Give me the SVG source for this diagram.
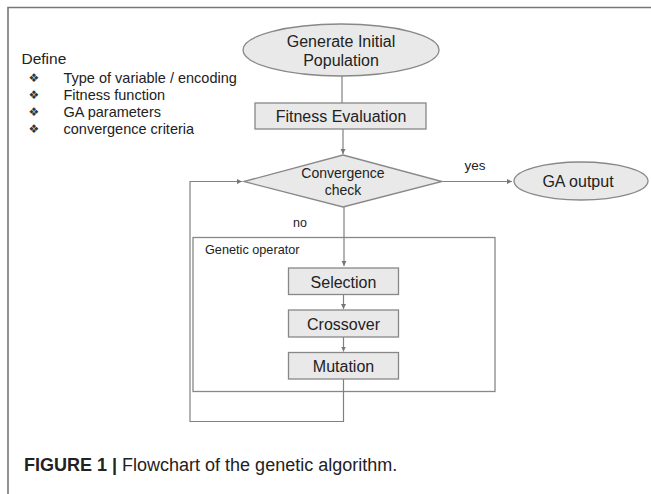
<svg xmlns="http://www.w3.org/2000/svg" width="651" height="494" viewBox="0 0 651 494">
<style>
  text { font-family: "Liberation Sans", Arial, sans-serif; fill: #222; }
  .node { fill: #e9e9e9; stroke: #888; stroke-width: 1.3; }
  .box { fill: none; stroke: #888; stroke-width: 1.3; }
  .conn { fill: none; stroke: #808080; stroke-width: 1.2; }
  .frame { fill: none; stroke: #777; stroke-width: 1.6; }
  .main { font-size: 16px; text-anchor: middle; }
  .small { font-size: 14px; text-anchor: middle; }
  .list { font-size: 14.5px; }
  .bullet { font-family: "DejaVu Sans", sans-serif; font-size: 12px; fill: #333; }
</style>
<defs>
  <marker id="arrow" markerWidth="6" markerHeight="6" refX="5" refY="3" orient="auto" markerUnits="userSpaceOnUse">
    <path d="M0,0.5 L5,3 L0,5.5 Z" fill="#777"/>
  </marker>
</defs>
<rect x="0" y="0" width="651" height="494" fill="#fff"/>
<path class="frame" d="M8,494 V7.5 H651"/>

<g id="define">
  <text x="21.5" y="64" style="font-size:15.5px">Define</text>
  <text class="bullet" x="28.5" y="82">❖</text>
  <text class="list" x="63.5" y="83">Type of variable / encoding</text>
  <text class="bullet" x="28.5" y="99">❖</text>
  <text class="list" x="63.5" y="100">Fitness function</text>
  <text class="bullet" x="28.5" y="116">❖</text>
  <text class="list" x="63.5" y="117">GA parameters</text>
  <text class="bullet" x="28.5" y="133">❖</text>
  <text class="list" x="63.5" y="134">convergence criteria</text>
</g>

<g id="genetic-operator">
  <rect class="box" x="193" y="237.5" width="302" height="154"/>
  <text x="205" y="254" style="font-size:12.7px">Genetic operator</text>
</g>

<g id="connectors">
  <line class="conn" x1="342" y1="76" x2="342" y2="103"/>
  <line class="conn" x1="343" y1="129" x2="343" y2="154" marker-end="url(#arrow)"/>
  <line class="conn" x1="442" y1="181.5" x2="512" y2="181.5" marker-end="url(#arrow)"/>
  <line class="conn" x1="344" y1="207" x2="344" y2="266" marker-end="url(#arrow)"/>
  <line class="conn" x1="343.5" y1="294.5" x2="343.5" y2="309" marker-end="url(#arrow)"/>
  <line class="conn" x1="343.5" y1="337" x2="343.5" y2="351.5" marker-end="url(#arrow)"/>
  <polyline class="conn" points="343.5,379 343.5,421.5 190,421.5 190,181.5 242,181.5" marker-end="url(#arrow)"/>
</g>

<g id="generate">
  <ellipse class="node" cx="341" cy="50" rx="98" ry="26"/>
  <text class="main" x="341" y="47">Generate Initial</text>
  <text class="main" x="341" y="66">Population</text>
</g>

<g id="fitness">
  <rect class="node" x="255" y="103" width="171" height="26"/>
  <text class="main" x="341" y="121.5">Fitness Evaluation</text>
</g>

<g id="convergence">
  <polygon class="node" points="343,155 442,181.5 343,207 244,181.5"/>
  <text class="small" x="343" y="178">Convergence</text>
  <text class="small" x="343" y="195">check</text>
</g>

<g id="labels">
  <text x="475" y="169.5" style="font-size:13.5px;text-anchor:middle">yes</text>
  <text x="300" y="227" style="font-size:12.5px;text-anchor:middle">no</text>
</g>

<g id="ga-output">
  <ellipse class="node" cx="581" cy="181" rx="67" ry="19"/>
  <text class="main" x="578" y="186.5">GA output</text>
</g>

<g id="selection">
  <rect class="node" x="288.5" y="268" width="110" height="26.5"/>
  <text class="main" x="343.5" y="287.5">Selection</text>
</g>

<g id="crossover">
  <rect class="node" x="288.5" y="310" width="110" height="27"/>
  <text class="main" x="343.5" y="329.5">Crossover</text>
</g>

<g id="mutation">
  <rect class="node" x="288.5" y="352.5" width="110" height="26.5"/>
  <text class="main" x="343.5" y="371.5">Mutation</text>
</g>

<g id="caption">
  <text x="24" y="471" style="font-size:18px"><tspan font-weight="bold">FIGURE 1 |</tspan> Flowchart of the genetic algorithm.</text>
</g>
</svg>
